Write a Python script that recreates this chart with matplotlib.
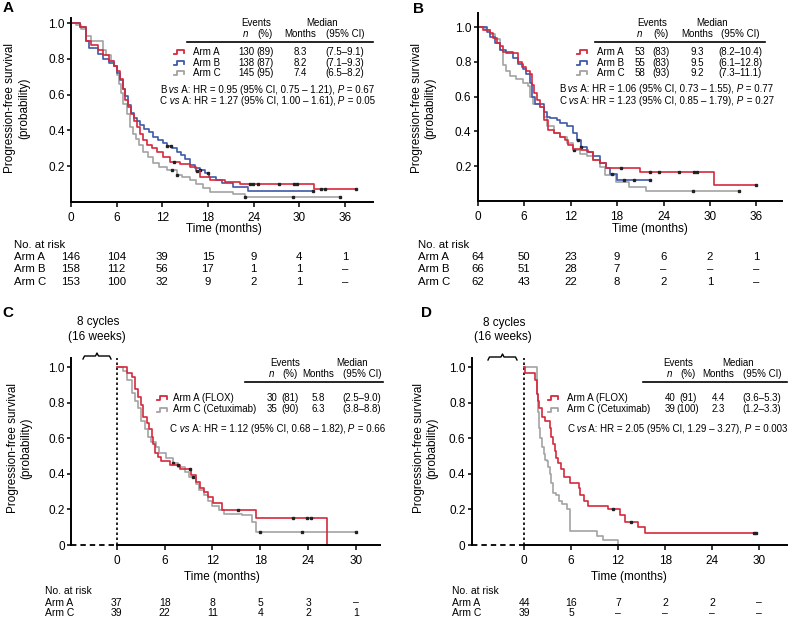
import numpy as np
import matplotlib.pyplot as plt
from matplotlib.lines import Line2D
from matplotlib import transforms

plt.rcParams['font.family'] = ['Liberation Sans', 'DejaVu Sans']

W, H = 794, 622
RED = '#d42a3c'
BLUE = '#3d5aa8'
GRAY = '#a3a3a3'

# ---------------- data (months, probability) ----------------
# panel A
a_red_t = [0, 1.2, 2.0, 2.6, 3.5, 4.2, 5.0, 5.6, 6.0, 6.4, 6.8, 7.1, 7.5, 7.9, 8.3, 8.7, 9.1, 9.5, 10.0,
           10.6, 11.3, 12.1, 13.0, 14.3, 15.6, 16.4, 17.0, 18.3, 20.2, 22.2, 32.0, 37.5]
a_red_s = [1.0, 0.98, 0.90, 0.88, 0.85, 0.82, 0.79, 0.76, 0.73, 0.69, 0.63, 0.57, 0.53, 0.49, 0.45, 0.42, 0.38,
           0.345, 0.32, 0.30, 0.28, 0.25, 0.225, 0.21, 0.196, 0.17, 0.14, 0.12, 0.108, 0.099, 0.073, 0.073]
a_red_c = [13.5, 16.6, 23.5, 23.9, 24.6, 27.3, 29.3, 29.7, 32.9, 33.4, 37.5]
a_blue_t = [0, 1.2, 2.0, 2.4, 3.5, 4.2, 5.0, 5.6, 6.0, 6.4, 6.8, 7.1, 7.5, 7.9, 8.3, 8.7, 9.1, 9.6, 10.2, 10.8,
            11.4, 12.1, 12.6, 13.3, 13.9, 14.4, 15.0, 15.6, 16.3, 17.0, 17.6, 18.2, 19.0, 19.8, 21.3, 23.3, 31.8]
a_blue_s = [1.0, 0.98, 0.90, 0.86, 0.83, 0.80, 0.78, 0.76, 0.72, 0.68, 0.63, 0.59, 0.54, 0.495, 0.47, 0.45,
            0.43, 0.41, 0.39, 0.365, 0.345, 0.327, 0.31, 0.30, 0.28, 0.26, 0.24, 0.205, 0.19, 0.178, 0.16, 0.14,
            0.12, 0.106, 0.084, 0.062, 0.062]
a_blue_c = [12.6, 13.2, 17.0, 18.0, 31.8]
a_gray_t = [0, 0.6, 1.3, 2.0, 2.6, 4.2, 4.6, 5.2, 5.6, 6.0, 6.3, 6.6, 6.9, 7.3, 7.75, 8.2, 8.6, 9.0, 9.5, 10.1,
            10.8, 11.6, 12.6, 13.9, 14.6, 15.6, 16.4, 17.4, 18.3, 21.3, 22.9, 35.4]
a_gray_s = [1.0, 0.99, 0.97, 0.93, 0.90, 0.85, 0.82, 0.79, 0.76, 0.71, 0.66, 0.61, 0.55, 0.49, 0.42, 0.38, 0.35,
            0.32, 0.28, 0.25, 0.215, 0.195, 0.18, 0.15, 0.14, 0.12, 0.10, 0.075, 0.056, 0.041, 0.028, 0.028]
a_gray_c = [13.3, 14.0, 22.9, 29.2, 35.4]

# panel B
b_red_t = [0, 0.7, 1.6, 2.0, 2.45, 2.9, 3.3, 4.6, 5.2, 5.7, 6.3, 6.7, 7.0, 7.3, 7.6, 8.0, 8.5, 9.1, 9.8, 10.6,
           11.3, 11.7, 12.3, 13.4, 14.3, 14.9, 15.8, 16.6, 20.9, 30.5, 36.0]
b_red_s = [1.0, 0.985, 0.965, 0.94, 0.91, 0.89, 0.86, 0.85, 0.80, 0.77, 0.75, 0.73, 0.67, 0.62, 0.58, 0.54, 0.465,
           0.41, 0.39, 0.37, 0.35, 0.32, 0.30, 0.29, 0.28, 0.235, 0.215, 0.19, 0.167, 0.089, 0.089]
b_red_c = [18.5, 22.3, 23.4, 26.0, 27.9, 28.3, 36.0]
b_blue_t = [0, 1.2, 1.6, 2.2, 2.9, 3.7, 4.6, 5.2, 5.9, 6.3, 6.75, 7.0, 7.4, 8.5, 8.9, 9.3, 10.2, 10.6, 11.5,
            12.3, 12.8, 13.4, 14.1, 14.9, 15.8, 16.6, 17.1, 18.0, 22.3]
b_blue_s = [1.0, 0.975, 0.946, 0.91, 0.87, 0.85, 0.82, 0.79, 0.76, 0.73, 0.68, 0.60, 0.56, 0.51, 0.485, 0.475,
            0.465, 0.45, 0.43, 0.39, 0.35, 0.31, 0.28, 0.255, 0.215, 0.19, 0.154, 0.12, 0.12]
b_blue_c = [13.0, 13.4, 17.4, 18.9, 20.2, 22.3]
b_gray_t = [0, 0.95, 1.6, 2.2, 2.9, 3.3, 3.7, 4.2, 5.0, 5.9, 6.5, 6.75, 7.2, 8.0, 8.5, 8.9, 9.8, 10.6, 11.5,
            12.3, 13.2, 14.1, 14.9, 15.8, 16.4, 17.8, 19.6, 21.7, 33.8]
b_gray_s = [1.0, 0.985, 0.96, 0.93, 0.87, 0.78, 0.75, 0.72, 0.70, 0.68, 0.66, 0.60, 0.56, 0.54, 0.485, 0.43,
            0.39, 0.37, 0.33, 0.29, 0.27, 0.255, 0.235, 0.196, 0.15, 0.11, 0.081, 0.056, 0.056]
b_gray_c = [12.4, 27.8, 33.8]

# panel C
c_red_t = [0, 1.25, 1.9, 2.3, 2.7, 3.1, 3.3, 3.8, 4.0, 4.4, 4.6, 4.8, 5.2, 5.6, 6.7, 7.9, 9.3, 10.0, 10.4,
           10.9, 11.5, 12.1, 13.2, 17.5, 26.3]
c_red_s = [1.0, 0.97, 0.947, 0.88, 0.83, 0.79, 0.72, 0.685, 0.65, 0.61, 0.57, 0.515, 0.497, 0.475, 0.45, 0.43,
           0.394, 0.356, 0.32, 0.30, 0.27, 0.235, 0.197, 0.15, 0.0]
c_red_c = [7.7, 9.2, 15.2, 22.1, 23.9, 24.3]
c_gray_t = [0, 0.8, 1.25, 1.9, 2.3, 2.7, 3.1, 3.5, 3.9, 4.3, 4.9, 5.3, 6.2, 7.0, 7.7, 8.5, 9.1, 9.9, 10.3,
            10.9, 11.5, 12.0, 12.8, 13.4, 15.7, 17.0, 17.4, 30.0]
c_gray_s = [1.0, 0.98, 0.93, 0.855, 0.81, 0.77, 0.70, 0.65, 0.61, 0.58, 0.55, 0.52, 0.49, 0.46, 0.44, 0.41,
            0.38, 0.345, 0.31, 0.28, 0.25, 0.22, 0.195, 0.175, 0.166, 0.13, 0.075, 0.075]
c_gray_c = [7.0, 9.6, 18.0, 23.2, 30.0]

# panel D
d_red_t = [0, 0.1, 1.4, 1.6, 1.8, 1.9, 2.3, 2.7, 3.3, 3.5, 3.7, 3.9, 4.1, 4.3, 4.7, 5.1, 5.9, 7.0, 7.2, 7.6,
           8.2, 10.75, 12.2, 12.9, 14.6, 15.4, 29.6]
d_red_s = [1.0, 0.966, 0.93, 0.85, 0.81, 0.77, 0.72, 0.70, 0.66, 0.61, 0.57, 0.53, 0.49, 0.46, 0.43, 0.38,
           0.35, 0.32, 0.28, 0.25, 0.22, 0.20, 0.17, 0.13, 0.10, 0.066, 0.066]
d_red_c = [11.4, 13.6, 29.3, 29.6]
d_gray_t = [0, 1.6, 1.8, 1.9, 2.1, 2.3, 2.5, 2.7, 2.9, 3.1, 3.3, 3.5, 3.7, 4.1, 4.5, 4.9, 5.5, 5.9, 9.3,
            10.1, 12.0]
d_gray_s = [1.0, 0.85, 0.75, 0.66, 0.60, 0.55, 0.51, 0.48, 0.47, 0.44, 0.40, 0.35, 0.29, 0.28, 0.25, 0.23,
            0.205, 0.077, 0.051, 0.026, 0.0]
d_gray_c = []

# summary tables
a_arms = ['Arm A', 'Arm B', 'Arm C']
a_events = [130, 138, 145]
a_pct = [89, 87, 95]
a_median = ['8.3', '8.2', '7.4']
a_ci = ['(7.5–9.1)', '(7.1–9.3)', '(6.5–8.2)']
a_hr_arm = ['B', 'C']
a_hr = ['0.95 (95% CI, 0.75 – 1.21)', '1.27 (95% CI, 1.00 – 1.61)']
a_p = ['0.67', '0.05']

b_arms = ['Arm A', 'Arm B', 'Arm C']
b_events = [53, 55, 58]
b_pct = [83, 83, 93]
b_median = ['9.3', '9.5', '9.2']
b_ci = ['(8.2–10.4)', '(6.1–12.8)', '(7.3–11.1)']
b_hr_arm = ['B', 'C']
b_hr = ['1.06 (95% CI, 0.73 – 1.55)', '1.23 (95% CI, 0.85 – 1.79)']
b_p = ['0.77', '0.27']

c_arms = ['Arm A (FLOX)', 'Arm C (Cetuximab)']
c_events = [30, 35]
c_pct = [81, 90]
c_median = ['5.8', '6.3']
c_ci = ['(2.5–9.0)', '(3.8–8.8)']
c_hr_arm = ['C']
c_hr = ['1.12 (95% CI, 0.68 – 1.82)']
c_p = ['0.66']

d_arms = ['Arm A (FLOX)', 'Arm C (Cetuximab)']
d_events = [40, 39]
d_pct = [91, 100]
d_median = ['4.4', '2.3']
d_ci = ['(3.6–5.3)', '(1.2–3.3)']
d_hr_arm = ['C']
d_hr = ['2.05 (95% CI, 1.29 – 3.27)']
d_p = ['0.003']

# numbers at risk
ab_risk_t = [0, 6, 12, 18, 24, 30, 36]
a_risk = [[146, 104, 39, 15, 9, 4, 1], [158, 112, 56, 17, 1, 1, None], [153, 100, 32, 9, 2, 1, None]]
b_risk = [[64, 50, 23, 9, 6, 2, 1], [66, 51, 28, 7, None, None, None], [62, 43, 22, 8, 2, 1, None]]
cd_risk_t = [0, 6, 12, 18, 24, 30]
c_risk = [[37, 18, 8, 5, 3, None], [39, 22, 11, 4, 2, 1]]
d_risk = [[44, 16, 7, 2, 2, None], [39, 5, None, None, None, None]]
risk_labels_abc = ['Arm A', 'Arm B', 'Arm C']
risk_labels_ac = ['Arm A', 'Arm C']

TS = 7.0  # table font size

fig = plt.figure(figsize=(W / 100, H / 100), dpi=100)


def fx(x):
    return x / W


def fy(y):
    return 1 - y / H


def txt(x, y, s, ha='center', size=TS, **kw):
    return fig.text(fx(x), fy(y), s, ha=ha, va='center', fontsize=size, **kw)


def line_px(xs, ys, **kw):
    fig.add_artist(Line2D([fx(v) for v in xs], [fy(v) for v in ys], transform=fig.transFigure, **kw))


def glyph(x, y, color):
    line_px([x, x + 3, x + 3, x + 10, x + 10], [y + 2, y + 2, y - 2, y - 2, y + 1], color=color, lw=1.3)


def rich(ax, x, y, parts):
    # chain text pieces so italics can sit inside a line
    prev = txt(x, y, parts[0][0], ha='left', style=parts[0][1])
    for s, st in parts[1:]:
        prev = ax.annotate(s, xy=(1, 0.5), xycoords=prev, ha='left', va='center', fontsize=TS,
                           style=st, annotation_clip=False)


def make_axes(left, right, top, bottom, xlim, ylim, xticks, yticks, ylabels, dashed_left=False):
    ax = fig.add_axes([fx(left), fy(bottom), fx(right - left), (bottom - top) / H])
    ax.set_xlim(xlim)
    ax.set_ylim(ylim)
    for s in ['top', 'right']:
        ax.spines[s].set_visible(False)
    for s in ['left', 'bottom']:
        ax.spines[s].set_linewidth(1.4)
    ax.set_xticks(xticks)
    ax.set_yticks(yticks)
    ax.set_yticklabels(ylabels)
    ax.tick_params(axis='x', direction='out', length=3.5, width=1.1, pad=4, labelsize=8.5)
    ax.tick_params(axis='y', direction='out', length=3, width=1.1, pad=1.5, labelsize=8.5)
    ax.patch.set_alpha(0)
    if dashed_left:
        ax.spines['bottom'].set_bounds(0, xlim[1])
        ax.plot([xlim[0], 0], [0, 0], color='k', lw=1.3, ls=(0, (3, 2.2)), clip_on=False)
        ax.plot([0, 0], [0, ylim[1]], color='k', lw=1.2, ls=(0, (1.5, 1.5)), clip_on=False)
    return ax


def km(ax, t, s, cens, color):
    ax.step(t, s, where='post', color=color, lw=1.2, clip_on=False)
    if cens:
        t = np.asarray(t)
        s = np.asarray(s)
        idx = np.searchsorted(t, cens, side='right') - 1
        ax.plot(cens, s[idx], ls='none', marker='s', ms=1.6, color='#222222', clip_on=False)


def summary(ax, x, ys, arms, colors, ev, pct, med, ci, hr_arm, hr, pv, hr_x, hr_y, line_x, head_y,
            glyph_x, lab_x):
    txt(x['events'], head_y, 'Events')
    txt(x['median'], head_y, 'Median')
    txt(x['n'], head_y + 11, 'n', style='italic')
    txt(x['pct'], head_y + 11, '(%)')
    txt(x['months'], head_y + 11, 'Months')
    txt(x['ci'], head_y + 11, '(95% CI)')
    line_px(line_x, [head_y + 19, head_y + 19], color='k', lw=1.2)
    for i, y in enumerate(ys):
        glyph(glyph_x, y, colors[i])
        txt(lab_x, y, arms[i], ha='left')
        txt(x['n'], y, str(ev[i]))
        txt(x['pct'], y, f'({pct[i]})')
        txt(x['months'], y, med[i])
        txt(x['ci'], y, ci[i])
    for i in range(len(hr)):
        rich(ax, hr_x, hr_y + 11.5 * i,
             [(hr_arm[i], 'normal'), (' vs', 'italic'), (f' A: HR = {hr[i]},', 'normal'),
              (' P', 'italic'), (f' = {pv[i]}', 'normal')])


def at_risk(ax, times, rows, labels, x_lab, y_title, ys, size):
    txt(x_lab, y_title, 'No. at risk', ha='left', size=size)
    tr = transforms.blended_transform_factory(ax.transData, fig.transFigure)
    for row, lab, y in zip(rows, labels, ys):
        txt(x_lab, y, lab, ha='left', size=size)
        for t, v in zip(times, row):
            ax.text(t, fy(y), '–' if v is None else str(v), transform=tr, ha='center', va='center',
                    fontsize=size, clip_on=False)


def brace(x0, x1, y):
    xc = (x0 + x1) / 2
    line_px([x0, x0 + 1.5, xc - 1.5, xc, xc + 1.5, x1 - 1.5, x1],
            [y + 3, y, y, y - 3, y, y, y + 3], color='k', lw=1.0)


ylab = 'Progression-free survival\n(probability)'
ab_yt = [0.2, 0.4, 0.6, 0.8, 1.0]
ab_yl = ['0.2', '0.4', '0.6', '0.8', '1.0']
cd_yt = [0, 0.2, 0.4, 0.6, 0.8, 1.0]
cd_yl = ['0', '0.2', '0.4', '0.6', '0.8', '1.0']

# ---------------- panel A ----------------
axA = make_axes(71, 373, 18.3, 201.7, (0, 39.7), (0, 1.028), ab_risk_t, ab_yt, ab_yl)
km(axA, a_gray_t, a_gray_s, a_gray_c, GRAY)
km(axA, a_blue_t, a_blue_s, a_blue_c, BLUE)
km(axA, a_red_t, a_red_s, a_red_c, RED)
summary(axA, dict(events=256, median=322, n=246, pct=265, months=300, ci=345), [52, 62.5, 73],
        a_arms, [RED, BLUE, GRAY], a_events, a_pct, a_median, a_ci, a_hr_arm, a_hr, a_p,
        160, 90, [187, 373], 23, 174, 193)
at_risk(axA, ab_risk_t, a_risk, risk_labels_abc, 14, 245, [257, 269.5, 282], 8.2)
txt(224, 229, 'Time (months)', size=8.5)
fig.text(fx(17), fy(108), ylab, rotation=90, ha='center', va='center', fontsize=8.5, multialignment='center')
txt(8.5, 8, 'A', size=11, weight='bold')

# ---------------- panel B ----------------
axB = make_axes(477.7, 782, 12.7, 200.7, (0, 39.3), (0, 1.084), ab_risk_t, ab_yt, ab_yl)
km(axB, b_gray_t, b_gray_s, b_gray_c, GRAY)
km(axB, b_blue_t, b_blue_s, b_blue_c, BLUE)
km(axB, b_red_t, b_red_s, b_red_c, RED)
summary(axB, dict(events=652, median=712, n=640, pct=661, months=697, ci=740), [52, 62.5, 73],
        b_arms, [RED, BLUE, GRAY], b_events, b_pct, b_median, b_ci, b_hr_arm, b_hr, b_p,
        559, 89, [595, 765], 23, 577, 597)
at_risk(axB, ab_risk_t, b_risk, risk_labels_abc, 418, 245, [257, 269.5, 282], 8.2)
txt(650, 229, 'Time (months)', size=8.5)
fig.text(fx(423.5), fy(108), ylab, rotation=90, ha='center', va='center', fontsize=8.5, multialignment='center')
txt(418, 9, 'B', size=11, weight='bold')

# ---------------- panel C ----------------
axC = make_axes(71, 380, 358.3, 545, (-5.73, 33.0), (0, 1.05), cd_risk_t, cd_yt, cd_yl, dashed_left=True)
km(axC, c_gray_t, c_gray_s, c_gray_c, GRAY)
km(axC, c_red_t, c_red_s, c_red_c, RED)
summary(axC, dict(events=285, median=352, n=272, pct=290, months=318, ci=362), [398.3, 409.5],
        c_arms, [RED, GRAY], c_events, c_pct, c_median, c_ci, c_hr_arm, c_hr, c_p,
        170, 429.3, [245, 383], 363, 157, 173)
at_risk(axC, cd_risk_t, c_risk, risk_labels_ac, 45, 591.5, [602.5, 613.5], 7.5)
txt(222, 577, 'Time (months)', size=8.5)
fig.text(fx(19.5), fy(448), ylab, rotation=90, ha='center', va='center', fontsize=8.5, multialignment='center')
txt(8, 313, 'C', size=11, weight='bold')
txt(98, 322, '8 cycles', size=8.5)
txt(97, 337, '(16 weeks)', size=8.5)
brace(83, 111, 356)

# ---------------- panel D ----------------
axD = make_axes(471.7, 786.7, 358.3, 545, (-6.67, 33.5), (0, 1.05), cd_risk_t, cd_yt, cd_yl, dashed_left=True)
km(axD, d_gray_t, d_gray_s, d_gray_c, GRAY)
km(axD, d_red_t, d_red_s, d_red_c, RED)
summary(axD, dict(events=678, median=738, n=670, pct=688, months=718, ci=762), [398.3, 409.5],
        d_arms, [RED, GRAY], d_events, d_pct, d_median, d_ci, d_hr_arm, d_hr, d_p,
        567, 429.3, [643, 787], 363, 548, 567)
at_risk(axD, cd_risk_t, d_risk, risk_labels_ac, 452, 591.5, [602.5, 613.5], 7.5)
txt(629, 577, 'Time (months)', size=8.5)
fig.text(fx(425.5), fy(448), ylab, rotation=90, ha='center', va='center', fontsize=8.5, multialignment='center')
txt(426, 313, 'D', size=11, weight='bold')
txt(504, 323, '8 cycles', size=8.5)
txt(503, 337, '(16 weeks)', size=8.5)
brace(488, 517, 357)

fig.savefig('out.png', dpi=100)
